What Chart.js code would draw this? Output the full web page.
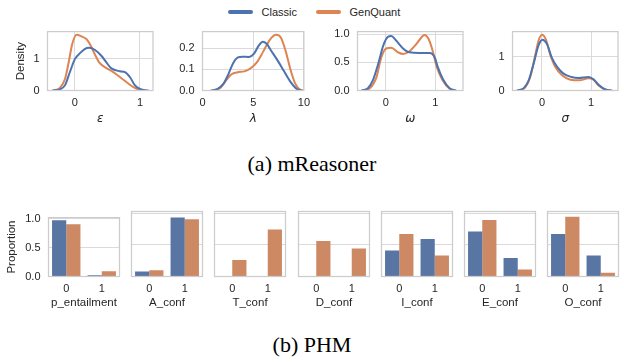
<!DOCTYPE html>
<html lang="en">
<head>
  <meta charset="UTF-8" />
  <title>mReasoner / PHM</title>
  <script src="https://cdn.jsdelivr.net/npm/chart.js"></script>
  <style>
    body { margin: 0; background: #fff; overflow: hidden; }
    #fig {
      position: relative; width: 624px; height: 362px; overflow: hidden;
      font-family: "Liberation Sans", Arial, sans-serif; color: #262626;
    }
    #fig canvas { position: absolute; }
    .leg { position: absolute; top: 5px; height: 14px; display: flex; align-items: center; font-size: 11px; }
    .leg i { display: inline-block; width: 25px; height: 3.5px; border-radius: 2px; margin-right: 8.5px; }
    .caption {
      position: absolute; left: 0; width: 624px; text-align: center;
      font-family: "Liberation Serif", "Times New Roman", serif;
      font-size: 22px; line-height: 22px; color: #000;
    }
  </style>
</head>
<body>
<div id="fig">
  <div class="leg" style="left:228px"><i style="background:#4c72b0"></i>Classic</div>
  <div class="leg" style="left:316px"><i style="background:#dd8452"></i>GenQuant</div>
  <div class="caption" style="top:153px">(a) mReasoner</div>
  <div class="caption" style="top:334px">(b) PHM</div>
</div>

<script>
  const seriesNames = ['Classic', 'GenQuant'];
  const lineColors = ['#4c72b0', '#dd8452'];
  const barColors = ['#5975a4', '#cc8963'];

  // KDE curves: [x, density]
  const epsClassic = [[-0.34,0],[-0.23,0.03],[-0.15,0.17],[-0.08,0.56],[0,0.99],[0.08,1.18],[0.15,1.31],[0.22,1.35],[0.31,1.28],[0.41,1.09],[0.49,0.87],[0.56,0.70],[0.69,0.61],[0.77,0.58],[0.85,0.41],[0.92,0.17],[1.0,0.05],[1.13,0]];
  const epsGenQuant = [[-0.34,0],[-0.23,0.08],[-0.15,0.37],[-0.09,0.94],[-0.04,1.47],[0.03,1.76],[0.10,1.71],[0.18,1.62],[0.23,1.47],[0.31,1.13],[0.38,0.87],[0.49,0.70],[0.59,0.58],[0.72,0.38],[0.82,0.22],[0.92,0.08],[1.03,0]];
  const lamClassic = [[0.82,0],[1.45,0.007],[2.08,0.033],[2.55,0.077],[3.02,0.13],[3.49,0.157],[3.96,0.161],[4.59,0.159],[5.06,0.174],[5.53,0.212],[5.94,0.232],[6.32,0.222],[6.79,0.188],[7.42,0.142],[8.05,0.091],[8.68,0.041],[9.31,0.007],[9.78,0]];
  const lamGenQuant = [[0.97,0],[1.76,0.012],[2.39,0.052],[2.86,0.077],[3.49,0.087],[4.12,0.091],[4.75,0.106],[5.38,0.135],[6.0,0.186],[6.64,0.241],[7.26,0.265],[7.74,0.251],[8.21,0.186],[8.68,0.099],[9.15,0.033],[9.62,0.004],[9.94,0]];
  const omeClassic = [[-0.49,0],[-0.36,0.04],[-0.26,0.18],[-0.15,0.48],[-0.05,0.80],[0.05,0.96],[0.11,0.97],[0.21,0.89],[0.35,0.75],[0.48,0.68],[0.68,0.67],[0.89,0.67],[0.99,0.59],[1.05,0.42],[1.15,0.21],[1.29,0.04],[1.42,0]];
  const omeGenQuant = [[-0.46,0],[-0.32,0.04],[-0.19,0.23],[-0.09,0.59],[0.01,0.75],[0.11,0.76],[0.25,0.68],[0.35,0.65],[0.48,0.70],[0.60,0.81],[0.68,0.90],[0.78,0.99],[0.87,0.91],[0.95,0.70],[1.03,0.42],[1.15,0.18],[1.29,0.03],[1.39,0]];
  const sigClassic = [[-0.51,0],[-0.37,0.07],[-0.27,0.30],[-0.17,0.79],[-0.07,1.33],[0.01,1.50],[0.10,1.38],[0.20,0.97],[0.31,0.70],[0.44,0.50],[0.60,0.40],[0.75,0.37],[0.95,0.40],[1.05,0.33],[1.16,0.16],[1.29,0.03],[1.43,0]];
  const sigGenQuant = [[-0.48,0],[-0.34,0.09],[-0.24,0.39],[-0.14,1.02],[-0.07,1.47],[0,1.65],[0.08,1.51],[0.17,1.06],[0.27,0.70],[0.41,0.45],[0.58,0.32],[0.76,0.30],[0.95,0.36],[1.05,0.32],[1.16,0.14],[1.29,0.03],[1.39,0]];

  const kdeTitles = ['ε', 'λ', 'ω', 'σ'];
  const kdeXRange = [[-0.42, 1.2], [0, 10], [-0.57, 1.56], [-0.6, 1.55]];
  const kdeYMax = [1.86, 0.28, 1.05, 1.74];
  const kdeXTicks = [[0, 1], [0, 5, 10], [0, 1], [0, 1]];
  const kdeYTicks = [[0, 1], [0, 0.1, 0.2], [0, 0.5, 1], [0, 1]];
  const kdeYTickLabels = [['0', '1'], ['0.0', '0.1', '0.2'], ['0.0', '0.5', '1.0'], ['0', '1']];

  // PHM proportions, categories 0 / 1
  const phmVars = ['p_entailment', 'A_conf', 'T_conf', 'D_conf', 'I_conf', 'E_conf', 'O_conf'];
  const phmCats = ['0', '1'];
  const phmClassic = [[0.98, 0.02], [0.08, 0.93], [null, null], [null, null], [0.41, 0.59], [0.71, 0.29], [0.67, 0.33]];
  const phmGenQuant = [[0.91, 0.09], [0.10, 0.90], [0.26, 0.74], [0.56, 0.44], [0.67, 0.33], [0.89, 0.11], [0.94, 0.06]];
  const phmYTicks = [0, 0.5, 1];
  const phmYTickLabels = ['0.0', '0.5', '1.0'];

  const fig = document.getElementById('fig');
  const gridColor = '#dadada';
  const textColor = '#262626';
  const tickFont = { family: '"Liberation Sans", Arial, sans-serif', size: 11 };
  const labelFont = { family: '"Liberation Sans", Arial, sans-serif', size: 11.5, lineHeight: 1 };

  // full light-grey frame round each panel
  const frame = {
    id: 'frame',
    afterDraw(chart) {
      const a = chart.chartArea, c = chart.ctx;
      c.save();
      c.strokeStyle = '#cccccc';
      c.lineWidth = 1.25;
      c.strokeRect(a.left, a.top, a.right - a.left, a.bottom - a.top);
      c.restore();
    }
  };

  function place(left, top, w, h) {
    const c = document.createElement('canvas');
    c.width = w; c.height = h;
    c.style.left = left + 'px'; c.style.top = top + 'px';
    c.style.width = w + 'px'; c.style.height = h + 'px';
    fig.appendChild(c);
    return c;
  }

  const kdeData = [[epsClassic, epsGenQuant], [lamClassic, lamGenQuant], [omeClassic, omeGenQuant], [sigClassic, sigGenQuant]];

  kdeData.forEach((pair, i) => {
    const boxLeft = 47.5 + i * 155;
    const canvas = place(boxLeft - 47.5, 17, 161, 108);
    new Chart(canvas, {
      type: 'line',
      data: {
        datasets: pair.map((pts, k) => ({
          label: seriesNames[k],
          data: pts.map(([x, y]) => ({ x, y })),
          borderColor: lineColors[k],
          borderWidth: 2,
          pointRadius: 0,
          fill: false,
          cubicInterpolationMode: 'monotone'
        }))
      },
      options: {
        responsive: false,
        animation: false,
        layout: { autoPadding: false, padding: { top: 8.5, right: 8, left: 0, bottom: 0 } },
        plugins: { legend: { display: false }, tooltip: { enabled: false } },
        scales: {
          x: {
            type: 'linear',
            min: kdeXRange[i][0], max: kdeXRange[i][1],
            afterBuildTicks: s => { s.ticks = kdeXTicks[i].map(v => ({ value: v })); },
            afterFit: s => { s.height = 34.5; },
            grid: { color: gridColor, drawTicks: false },
            border: { display: false },
            ticks: { padding: 6, font: tickFont, color: textColor, maxRotation: 0, callback: v => String(v) },
            title: {
              display: true, text: kdeTitles[i], color: textColor,
              font: { family: '"DejaVu Sans", sans-serif', style: 'italic', size: 12, lineHeight: 1 },
              padding: { top: 0, bottom: 0 }
            }
          },
          y: {
            min: 0, max: kdeYMax[i],
            afterBuildTicks: s => { s.ticks = kdeYTicks[i].map(v => ({ value: v })); },
            afterFit: s => { s.width = 47.5; },
            grid: { color: gridColor, drawTicks: false },
            border: { display: false },
            ticks: { padding: 8, font: tickFont, color: textColor, callback: (v, idx) => kdeYTickLabels[i][idx] },
            title: { display: i === 0, text: 'Density', color: textColor, font: labelFont, padding: { top: 14.8, bottom: 0 } }
          }
        }
      },
      plugins: [frame]
    });
  });

  const phmLefts = [48.5, 131.5, 214.5, 298.5, 381.5, 464.5, 547.5];

  phmVars.forEach((name, i) => {
    const canvas = place(phmLefts[i] - 48.5, 203, 124, 106);
    new Chart(canvas, {
      type: 'bar',
      data: {
        labels: phmCats,
        datasets: [phmClassic[i], phmGenQuant[i]].map((vals, k) => ({
          label: seriesNames[k],
          data: vals,
          backgroundColor: barColors[k],
          borderWidth: 0,
          categoryPercentage: 0.8,
          barPercentage: 1.0
        }))
      },
      options: {
        responsive: false,
        animation: false,
        layout: { autoPadding: false, padding: { top: 8.5, right: 4.5, left: 0, bottom: 0 } },
        plugins: { legend: { display: false }, tooltip: { enabled: false } },
        scales: {
          x: {
            afterFit: s => { s.height = 32.5; },
            grid: { display: false, drawTicks: false },
            border: { display: false },
            ticks: { padding: 6, font: tickFont, color: textColor, maxRotation: 0 },
            title: { display: true, text: name, color: textColor, font: labelFont, padding: { top: 0, bottom: 0.5 } }
          },
          y: {
            min: 0, max: 1.024,
            afterBuildTicks: s => { s.ticks = phmYTicks.map(v => ({ value: v })); },
            afterFit: s => { s.width = 48.5; },
            grid: { color: gridColor, drawTicks: false },
            border: { display: false },
            ticks: { display: i === 0, padding: 8, font: tickFont, color: textColor, callback: (v, idx) => phmYTickLabels[idx] },
            title: { display: i === 0, text: 'Proportion', color: textColor, font: labelFont, padding: { top: 6.4, bottom: 0 } }
          }
        }
      },
      plugins: [frame]
    });
  });
</script>
</body>
</html>
